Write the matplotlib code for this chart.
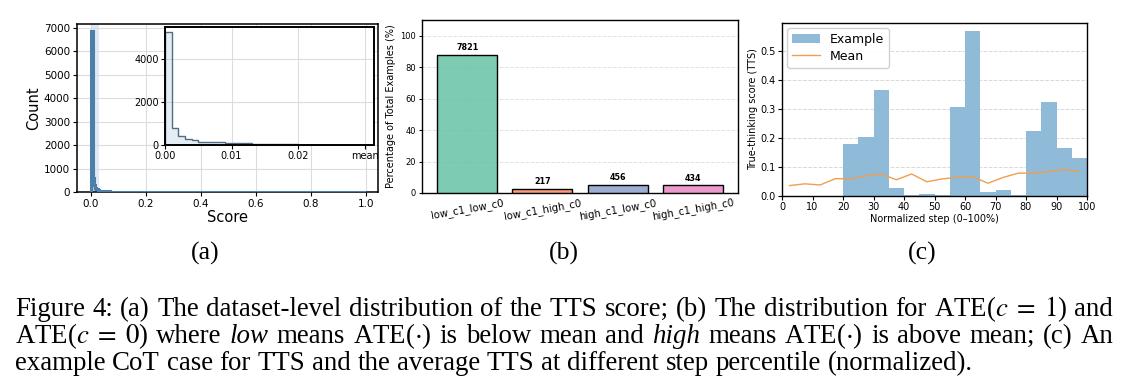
import numpy as np
import matplotlib
matplotlib.use('Agg')
import matplotlib.pyplot as plt
from matplotlib.colors import to_rgba
from matplotlib import font_manager

# ---------------- data ----------------
# (a) dataset-level TTS score distribution
main_edges = [0, 0.007, 0.011, 0.015, 0.02, 0.025, 0.03, 0.04, 0.05, 0.07,
              0.1, 0.15, 0.2, 0.3, 0.5, 0.7, 1.0]
main_counts = [6885, 585, 300, 180, 120, 85, 60, 40, 28, 18, 12, 9, 7, 5, 4, 3]
inset_bin_width = 0.001
inset_counts = [5250, 770, 400, 295, 215, 160, 150, 140, 125, 110, 95, 85, 75,
                65, 55, 48, 42, 36, 30, 25, 20, 17, 14, 12, 10, 8, 7, 6, 5, 4, 4]
mean_score = 0.0301

# (b) ATE groups
groups = ['low_c1_low_c0', 'low_c1_high_c0', 'high_c1_low_c0', 'high_c1_high_c0']
group_counts = [7821, 217, 456, 434]

# (c) TTS per normalized step (5% bins)
step_centers = [2.5, 7.5, 12.5, 17.5, 22.5, 27.5, 32.5, 37.5, 42.5, 47.5,
                52.5, 57.5, 62.5, 67.5, 72.5, 77.5, 82.5, 87.5, 92.5, 97.5]
tts_example = [0.0, 0.0, 0.0, 0.0, 0.179, 0.203, 0.366, 0.028, 0.003, 0.007,
               0.003, 0.306, 0.568, 0.015, 0.021, 0.003, 0.224, 0.323, 0.166, 0.131]
tts_mean = [0.036, 0.042, 0.038, 0.060, 0.059, 0.070, 0.076, 0.056, 0.076, 0.049,
            0.059, 0.064, 0.067, 0.044, 0.064, 0.079, 0.079, 0.084, 0.092, 0.084]

W, H = 1130, 392
fig = plt.figure(figsize=(W / 100, H / 100), dpi=100)
plt.rcParams['mathtext.fontset'] = 'stix'

serif_path = font_manager.findfont(font_manager.FontProperties(family='Liberation Serif'),
                                   fallback_to_default=True)
serif_fp = font_manager.FontProperties(fname=serif_path)
serif_it_path = font_manager.findfont(font_manager.FontProperties(family='Liberation Serif',
                                                                  style='italic'),
                                      fallback_to_default=True)
serif_it_fp = font_manager.FontProperties(fname=serif_it_path)


def box(l, t, r, b):
    return [l / W, 1 - b / H, (r - l) / W, (b - t) / H]


# ---------------- panel (a) ----------------
ax1 = fig.add_axes(box(77, 24, 378, 192))
ax1.axvspan(0, mean_score, color='#c9dcee', alpha=0.6, lw=0, zorder=0)
ax1.stairs(main_counts, main_edges, fill=True, color='#4e7fab', alpha=0.35, zorder=2)
ax1.stairs(main_counts, main_edges, color='#4e7fab', lw=2.2, zorder=3)
ax1.set_xlim(-0.051, 1.045)
ax1.set_ylim(0, 7170)
ax1.set_xticks([0, 0.2, 0.4, 0.6, 0.8, 1.0])
ax1.set_yticks(range(0, 7001, 1000))
ax1.grid(True, color='#dcdcdc', lw=0.8)
ax1.set_axisbelow(True)
ax1.tick_params(labelsize=7.5, length=3, pad=2)
ax1.set_xlabel('Score', fontsize=10.5, labelpad=1)
ax1.set_ylabel('Count', fontsize=10.5, labelpad=2)
for s in ax1.spines.values():
    s.set_linewidth(1.1)

axin = fig.add_axes(box(165, 27, 374, 145))
inset_edges = np.arange(len(inset_counts) + 1) * inset_bin_width
axin.stairs(inset_counts, inset_edges, fill=True, color='#a9c4dc', alpha=0.3)
axin.stairs(inset_counts, inset_edges, color='#506b82', lw=1.0)
axin.set_xlim(0, 0.0314)
axin.set_ylim(0, 5500)
axin.set_xticks([0, 0.01, 0.02, mean_score])
axin.set_xticklabels(['0.00', '0.01', '0.02', 'mean'])
axin.set_yticks([0, 2000, 4000])
axin.grid(True, color='#dcdcdc', lw=0.8)
axin.set_axisbelow(True)
axin.tick_params(labelsize=7, length=3, pad=1.5)
for s in axin.spines.values():
    s.set_linewidth(1.4)

# ---------------- panel (b) ----------------
ax2 = fig.add_axes(box(422, 20, 738, 193))
total = sum(group_counts)
pct = [c / total * 100 for c in group_counts]
cols = [to_rgba(c, 0.85) for c in plt.get_cmap('Set2').colors[:4]]
bars = ax2.bar(range(len(groups)), pct, width=0.8, color=cols,
               edgecolor='black', linewidth=1.0, zorder=3)
ax2.bar_label(bars, labels=[str(c) for c in group_counts], padding=2,
              fontsize=5.8, fontweight='bold')
ax2.set_xlim(-0.6, 3.6)
ax2.set_ylim(0, 110)
ax2.set_yticks(range(0, 101, 20))
ax2.set_xticks(range(len(groups)))
ax2.set_xticklabels(groups, rotation=10, fontsize=7.3)
ax2.tick_params(axis='y', labelsize=6, length=2.5, pad=2)
ax2.tick_params(axis='x', length=0, pad=3)
ax2.grid(True, axis='y', color='#e2e2e2', ls='--', lw=0.7)
ax2.set_axisbelow(True)
ax2.set_ylabel('Percentage of Total Examples (%)', fontsize=7, labelpad=3)
for s in ax2.spines.values():
    s.set_linewidth(1.0)

# ---------------- panel (c) ----------------
ax3 = fig.add_axes(box(782, 23, 1087, 196))
hb = ax3.bar(step_centers, tts_example, width=5, color='#8fbbd9', label='Example', zorder=2)
hl, = ax3.plot(step_centers, tts_mean, color='#ef9f4f', lw=1.0, label='Mean', zorder=3)
ax3.set_xlim(0, 100)
ax3.set_ylim(0, 0.597)
ax3.set_xticks(range(0, 101, 10))
ax3.set_yticks([0, 0.1, 0.2, 0.3, 0.4, 0.5])
ax3.grid(True, axis='y', color='#d8d8d8', ls='--', lw=0.7)
ax3.set_axisbelow(True)
ax3.tick_params(labelsize=7, length=3, pad=1.5)
ax3.set_xlabel('Normalized step (0\u2013100%)', fontsize=7, labelpad=1)
ax3.set_ylabel('True-thinking score (TTS)', fontsize=7, labelpad=2)
ax3.legend([hb, hl], ['Example', 'Mean'], loc='upper left', fontsize=9,
           framealpha=0.9, borderaxespad=0.4, handlelength=2.2, labelspacing=0.3)
for s in ax3.spines.values():
    s.set_linewidth(1.0)

# ---------------- sub-captions & caption ----------------
for xc, lab in [(205, '(a)'), (564, '(b)'), (922, '(c)')]:
    t = fig.text(xc / W, 1 - 260 / H, lab, ha='center', va='baseline',
                 fontproperties=serif_fp)
    t.set_fontsize(18.5)

cap_size = 19.4
lines = [
    ("Figure 4: (a) The dataset-level distribution of the TTS score; (b) The "
     "distribution for ATE($c\\;=\\;1$) and", 316, True),
    ("ATE($c\\;=\\;0$) where *low means ATE($\\cdot$) is below mean and *high means "
     "ATE($\\cdot$) is above mean; (c) An", 343, True),
    ("example CoT case for TTS and the average TTS at different step "
     "percentile (normalized).", 370, False),
]
renderer = fig.canvas.get_renderer()
x_left, x_right = 15, 1113
for text, base, justify in lines:
    words = text.split(' ')
    objs = []
    for w in words:
        fp = serif_fp
        if w.startswith('*'):
            w = w[1:]
            fp = serif_it_fp
        t = fig.text(0, 1 - base / H, w, ha='left', va='baseline', fontproperties=fp)
        t.set_fontsize(cap_size)
        objs.append(t)
    widths = [o.get_window_extent(renderer).width for o in objs]
    if justify:
        gap = (x_right - x_left - sum(widths)) / (len(objs) - 1)
    else:
        gap = 0.25 * cap_size * 100 / 72
    x = x_left
    for o, wd in zip(objs, widths):
        o.set_x(x / W)
        x += wd + gap

fig.savefig('out.png', dpi=100)
